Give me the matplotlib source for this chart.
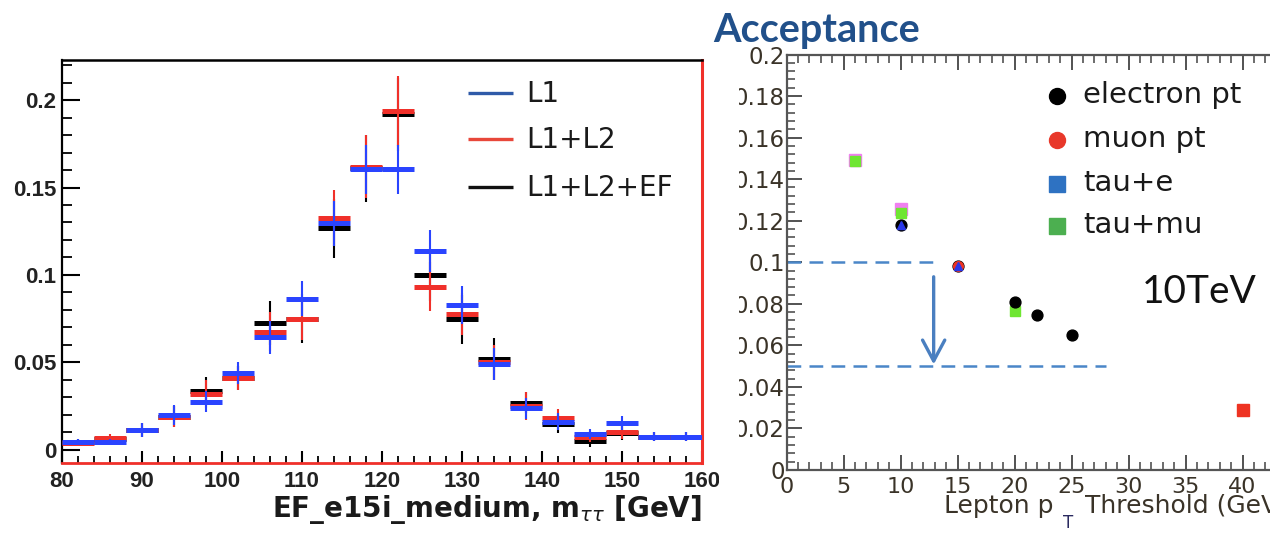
import numpy as np
import matplotlib
matplotlib.use("Agg")
import matplotlib.pyplot as plt
from matplotlib.patches import Rectangle
from matplotlib.ticker import MultipleLocator, FuncFormatter

# ---------------- left: trigger-level m_tautau distributions ----------------
mass_centers = [82, 86, 90, 94, 98, 102, 106, 110, 114, 118,
                122, 126, 130, 134, 138, 142, 146, 150, 154, 158]
bin_half_width = 2.0

l1_vals = [0.0047, 0.0047, 0.0114, 0.0200, 0.0274, 0.0440, 0.0644, 0.0863, 0.1295, 0.1604,
           0.1604, 0.1137, 0.0829, 0.0491, 0.0238, 0.0162, 0.0090, 0.0156, 0.0076, 0.0076]
l1_errs = [0.0015, 0.0015, 0.0040, 0.0057, 0.0060, 0.0065, 0.0095, 0.0100, 0.0130, 0.0140,
           0.0140, 0.0120, 0.0110, 0.0090, 0.0060, 0.0050, 0.0030, 0.0040, 0.0025, 0.0025]

l1l2_vals = [0.0040, 0.0070, 0.0114, 0.0190, 0.0320, 0.0410, 0.0676, 0.0750, 0.1324, 0.1620,
             0.1937, 0.0933, 0.0775, 0.0500, 0.0250, 0.0185, 0.0076, 0.0105, 0.0076, 0.0076]
l1l2_errs = [0.0015, 0.0020, 0.0040, 0.0060, 0.0080, 0.0070, 0.0110, 0.0120, 0.0160, 0.0180,
             0.0200, 0.0140, 0.0120, 0.0100, 0.0080, 0.0050, 0.0030, 0.0040, 0.0025, 0.0025]

ef_vals = [0.0045, 0.0060, 0.0114, 0.0190, 0.0337, 0.0410, 0.0724, 0.0750, 0.1267, 0.1610,
           0.1918, 0.1000, 0.0747, 0.0518, 0.0270, 0.0149, 0.0048, 0.0095, 0.0076, 0.0076]
ef_errs = [0.0015, 0.0020, 0.0040, 0.0060, 0.0080, 0.0070, 0.0125, 0.0140, 0.0170, 0.0190,
           0.0210, 0.0150, 0.0140, 0.0120, 0.0060, 0.0050, 0.0030, 0.0040, 0.0025, 0.0025]

hist_labels = ["L1", "L1+L2", "L1+L2+EF"]

# ---------------- right: acceptance vs lepton pT threshold ----------------
electron_pt_x = [10, 15, 20, 22, 25]
electron_pt_y = [0.118, 0.098, 0.081, 0.0745, 0.065]
muon_pt_x = [15, 40]
muon_pt_y = [0.098, 0.029]
muon_pt_markers = ["o", "s"]
tau_e_x = [10, 15]
tau_e_y = [0.118, 0.098]
tau_mu_x = [6, 10, 20]
tau_mu_y = [0.1486, 0.1237, 0.0765]
tau_mu_alt_x = [6, 10]
tau_mu_alt_y = [0.149, 0.1255]

acc_before, before_end = 0.100, 12.8
acc_after, after_end = 0.0503, 28.0
arrow_x = 12.9

acc_labels = ["electron pt", "muon pt", "tau+e", "tau+mu"]

# ---------------------------------------------------------------------------
W, H = 1270, 533
fig = plt.figure(figsize=(W / 100, H / 100), dpi=100)
fig.patch.set_facecolor("white")

def fr(x0, y_top, x1, y_bot):
    return [x0 / W, 1 - y_bot / H, (x1 - x0) / W, (y_bot - y_top) / H]

# ===== left panel =====
ax = fig.add_axes(fr(62, 60, 702, 463))
ax.set_xlim(80, 160)
ax.set_ylim(-0.0075, 0.2229)

BLUE, RED, BLACK = "#2a44ff", "#f0302a", "#000000"
series = [(ef_vals, ef_errs, BLACK), (l1l2_vals, l1l2_errs, RED), (l1_vals, l1_errs, BLUE)]
xc = np.asarray(mass_centers, dtype=float)
for z, (vals, errs, col) in enumerate(series):
    v = np.asarray(vals)
    e = np.asarray(errs)
    ax.vlines(xc, v - e, v + e, color=col, lw=1.5, zorder=3 + z)
    ax.hlines(v, xc - bin_half_width, xc + bin_half_width, color=col, lw=3.6, zorder=3 + z)

ax.xaxis.set_major_locator(MultipleLocator(10))
ax.xaxis.set_minor_locator(MultipleLocator(2))
ax.yaxis.set_major_locator(MultipleLocator(0.05))
ax.yaxis.set_minor_locator(MultipleLocator(0.01))
ax.yaxis.set_major_formatter(FuncFormatter(lambda v, p: "%g" % round(v, 3)))
ax.tick_params(axis="both", which="both", direction="in", colors="black",
               top=False, right=False)
ax.tick_params(axis="y", which="major", length=13, width=1.5, pad=4)
ax.tick_params(axis="y", which="minor", length=7, width=1.3)
ax.tick_params(axis="x", which="major", length=9, width=1.5, pad=6)
ax.tick_params(axis="x", which="minor", length=5, width=1.3)
for lab in ax.get_xticklabels() + ax.get_yticklabels():
    lab.set_fontfamily("Liberation Sans")
    lab.set_fontweight("bold")
    lab.set_fontsize(16)
    lab.set_color("#222222")
ax.spines["left"].set_linewidth(1.6)
ax.spines["top"].set_linewidth(1.8)
ax.spines["bottom"].set_color(RED)
ax.spines["bottom"].set_linewidth(2.0)
ax.spines["right"].set_color(RED)
ax.spines["right"].set_linewidth(2.2)

fig.text(702 / W, 1 - 517 / H, r"EF_e15i_medium, m$_{\tau\tau}$ [GeV]",
         ha="right", va="baseline", fontsize=20, fontweight="bold",
         family="DejaVu Sans", color="#1a1a1a")

# legend
leg_colors = ["#2f5aa8", "#e8473a", "#111111"]
leg_base = [0.897, 0.781, 0.663]
for lab, col, yb in zip(hist_labels, leg_colors, leg_base):
    ax.plot([0.634, 0.705], [yb + 0.022, yb + 0.022], transform=ax.transAxes,
            color=col, lw=2.4, solid_capstyle="butt", zorder=8)
    ax.text(0.725, yb, lab, transform=ax.transAxes, ha="left", va="baseline",
            fontsize=20, family="DejaVu Sans", color="#1a1a1a", zorder=8)

# ===== right panel =====
x0_px, x_per_unit = 786.6, 11.4
bx = fig.add_axes(fr(x0_px, 54.5, x0_px + 50 * x_per_unit, 470))
bx.set_xlim(0, 50)
bx.set_ylim(0, 0.2)

bx.hlines(acc_before, 0, before_end, colors="#4a86c8", lw=1.8,
          linestyles=(0, (5.5, 3.3)), zorder=2)
bx.hlines(acc_after, 0, after_end, colors="#4a86c8", lw=1.8,
          linestyles=(0, (5.5, 3.3)), zorder=2)
bx.annotate("", xy=(arrow_x, acc_after + 0.0005), xytext=(arrow_x, 0.093),
            arrowprops=dict(arrowstyle="->,head_length=0.75,head_width=0.4",
                            mutation_scale=20, color="#4a7fc0", lw=2.4,
                            shrinkA=0, shrinkB=0), zorder=3)

bx.plot(tau_mu_alt_x, tau_mu_alt_y, ls="none", marker="s", ms=9,
        color="#f080f0", mec="#f080f0", zorder=4)
bx.plot(tau_mu_x, tau_mu_y, ls="none", marker="s", ms=7.5,
        color="#6fe632", mec="#6fe632", zorder=5)
bx.plot(electron_pt_x, electron_pt_y, ls="none", marker="o", ms=7.8,
        color="#000000", zorder=5)
for mx, my, mk in zip(muon_pt_x, muon_pt_y, muon_pt_markers):
    bx.plot([mx], [my], ls="none", marker=mk, ms=7 if mk == "o" else 8.5,
            color="#ee3322", mec="#ee3322", zorder=6)
bx.plot(tau_e_x, tau_e_y, ls="none", marker="^", ms=6.2,
        color="#2a38e8", mec="#2a38e8", zorder=7)

bx.xaxis.set_major_locator(MultipleLocator(5))
bx.xaxis.set_minor_locator(MultipleLocator(1))
bx.yaxis.set_major_locator(MultipleLocator(0.02))
bx.yaxis.set_minor_locator(MultipleLocator(0.004))
bx.yaxis.set_major_formatter(FuncFormatter(lambda v, p: "%g" % round(v, 3)))
bx.tick_params(axis="both", which="both", direction="in", colors="#444444",
               top=True, right=False, labelcolor="#3a3328")
bx.tick_params(axis="both", which="major", length=11, width=1.3)
bx.tick_params(axis="both", which="minor", length=5.5, width=1.1)
bx.tick_params(axis="y", which="major", pad=1.5, labelsize=16.5)
bx.tick_params(axis="x", which="major", pad=5, labelsize=16)
for sp in bx.spines.values():
    sp.set_color("#555555")
    sp.set_linewidth(1.6)

# x-axis title: "Lepton p_T Threshold (GeV)"
fig.text(944.5 / W, 1 - 513 / H, "Lepton p", ha="left", va="baseline",
         fontsize=18, family="DejaVu Sans", color="#3a3328")
fig.text(1063 / W, 1 - 528 / H, "T", ha="left", va="baseline",
         fontsize=12, family="DejaVu Sans", color="#2a2a60")
fig.text(1084.8 / W, 1 - 513 / H, "Threshold (GeV)", ha="left", va="baseline",
         fontsize=18, family="DejaVu Sans", color="#3a3328")

bx.text(31.2, 0.0805, "10TeV", ha="left", va="baseline", fontsize=28,
        family="Lato", color="#111111", zorder=8)

# legend
leg_mk = [("o", "#000000"), ("o", "#e8382a"), ("s", "#2e72c2"), ("s", "#4caf50")]
leg_y = [0.1800, 0.1588, 0.1378, 0.1176]
leg_text_base = [0.1765, 0.1556, 0.1341, 0.1141]
for lab, (mk, col), ym, yt in zip(acc_labels, leg_mk, leg_y, leg_text_base):
    bx.plot([23.7], [ym], marker=mk, ms=11.5 if mk == "o" else 12, color=col,
            mec=col, ls="none", zorder=8, clip_on=False)
    bx.text(26.0, yt, lab, ha="left", va="baseline", fontsize=21,
            family="DejaVu Sans", color="#1a1a1a", zorder=8)

# crop the right panel's tick labels at its left edge
fig.add_artist(Rectangle((719 / W, 1 - 490 / H), (739 - 719) / W, (490 - 46) / H,
                         transform=fig.transFigure, facecolor="white",
                         edgecolor="none", zorder=20))

fig.text(713 / W, 1 - 42 / H, "Acceptance", ha="left", va="baseline",
         fontsize=28.5, fontweight="bold", family="Lato", color="#21508a", zorder=30)

fig.savefig("out.png", dpi=100, facecolor="white")
